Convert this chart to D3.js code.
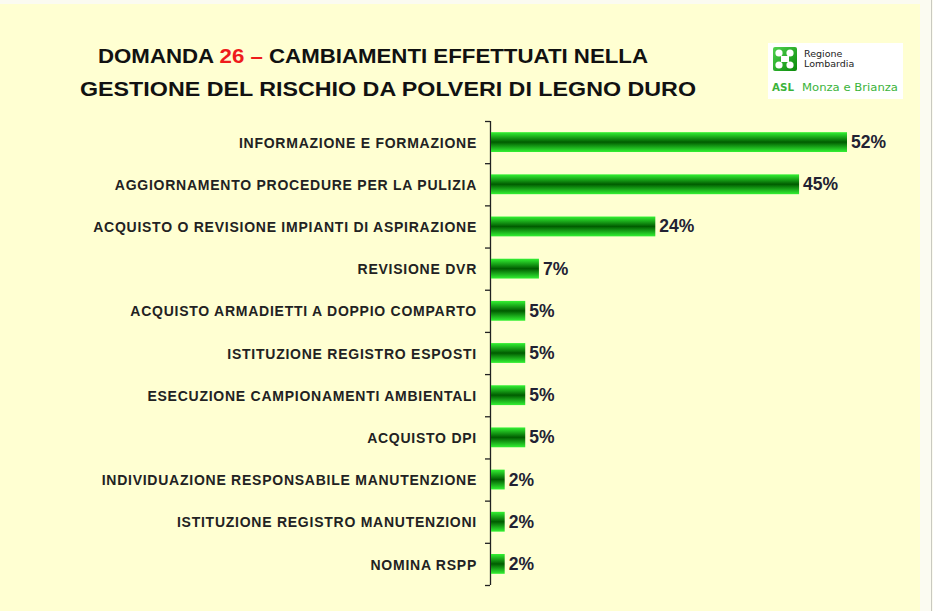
<!DOCTYPE html>
<html>
<head>
<meta charset="utf-8">
<script src="https://cdn.jsdelivr.net/npm/d3@7"></script>
<style>
  body { margin: 0; background: #f7f7ee; }
  svg { display: block; }
</style>
</head>
<body>
<script>
var svgWidth = 933;
var svgHeight = 611;

var categories = [
  "INFORMAZIONE E FORMAZIONE",
  "AGGIORNAMENTO PROCEDURE PER LA PULIZIA",
  "ACQUISTO O REVISIONE IMPIANTI DI ASPIRAZIONE",
  "REVISIONE DVR",
  "ACQUISTO ARMADIETTI A DOPPIO COMPARTO",
  "ISTITUZIONE REGISTRO ESPOSTI",
  "ESECUZIONE CAMPIONAMENTI AMBIENTALI",
  "ACQUISTO DPI",
  "INDIVIDUAZIONE RESPONSABILE MANUTENZIONE",
  "ISTITUZIONE REGISTRO MANUTENZIONI",
  "NOMINA RSPP"
];
var values = [52, 45, 24, 7, 5, 5, 5, 5, 2, 2, 2];

var titleLine1 = ["DOMANDA ", "26 \u2013", " CAMBIAMENTI EFFETTUATI NELLA"];
var titleLine2 = "GESTIONE DEL RISCHIO DA POLVERI DI LEGNO DURO";

var svg = d3.select("body").append("svg").attr("width", svgWidth).attr("height", svgHeight);

// slide background
svg.append("rect").attr("x", 0).attr("y", 0).attr("width", svgWidth).attr("height", svgHeight).attr("fill", "#fbfbf1");
svg.append("rect").attr("x", 0).attr("y", 4).attr("width", 920).attr("height", svgHeight - 4).attr("fill", "#ffffd2");
svg.append("line").attr("x1", 931.5).attr("x2", 931.5).attr("y1", 0).attr("y2", svgHeight).attr("stroke", "#c9c9c0");

var defs = svg.append("defs");
var grad = defs.append("linearGradient").attr("id", "barGrad").attr("x1", 0).attr("x2", 0).attr("y1", 0).attr("y2", 1);
grad.append("stop").attr("offset", "0%").attr("stop-color", "#33f233");
grad.append("stop").attr("offset", "50%").attr("stop-color", "#005c00");
grad.append("stop").attr("offset", "100%").attr("stop-color", "#33f233");

// title
var t1 = svg.append("text")
    .attr("x", 98).attr("y", 63)
    .attr("textLength", 550)
    .attr("lengthAdjust", "spacingAndGlyphs")
    .attr("font-family", "Liberation Sans, Arial, sans-serif")
    .attr("font-weight", "bold")
    .attr("font-size", "21px")
    .attr("fill", "#111");
t1.selectAll("tspan").data(titleLine1).enter().append("tspan")
    .attr("fill", function(d, i) { return i == 1 ? "#ee1c1c" : "#111"; })
    .text(function(d) { return d; });

svg.append("text")
    .attr("x", 80).attr("y", 96)
    .attr("textLength", 616)
    .attr("lengthAdjust", "spacingAndGlyphs")
    .attr("font-family", "Liberation Sans, Arial, sans-serif")
    .attr("font-weight", "bold")
    .attr("font-size", "21px")
    .attr("fill", "#111")
    .text(titleLine2);

// logo
var logo = svg.append("g").attr("transform", "translate(768,43)");
logo.append("rect").attr("width", 135).attr("height", 56).attr("fill", "#ffffff");
var lg = defs.append("linearGradient").attr("id", "logoGrad").attr("x1", 0).attr("x2", 1).attr("y1", 0).attr("y2", 1);
lg.append("stop").attr("offset", "0%").attr("stop-color", "#4fd24f");
lg.append("stop").attr("offset", "100%").attr("stop-color", "#0a8a0a");
logo.append("rect").attr("x", 5).attr("y", 4).attr("width", 24).attr("height", 24).attr("rx", 2).attr("fill", "url(#logoGrad)");
logo.selectAll(".leaf").data([[11, 10], [22, 10], [11, 22], [22, 22]]).enter().append("circle")
    .attr("cx", function(d) { return d[0]; }).attr("cy", function(d) { return d[1]; })
    .attr("r", 3.6).attr("fill", "#fff");
logo.append("rect").attr("x", 13).attr("y", 13).attr("width", 8).attr("height", 6).attr("fill", "#fff");
logo.append("text").attr("x", 36).attr("y", 14).attr("font-family", "DejaVu Sans, sans-serif").attr("font-size", "9.5px").attr("fill", "#222").text("Regione");
logo.append("text").attr("x", 36).attr("y", 24).attr("font-family", "DejaVu Sans, sans-serif").attr("font-size", "9.5px").attr("fill", "#222").text("Lombardia");
logo.append("text").attr("x", 4).attr("y", 48).attr("textLength", 22).attr("lengthAdjust", "spacingAndGlyphs")
    .attr("font-family", "DejaVu Sans, sans-serif").attr("font-weight", "bold").attr("font-size", "10px").attr("fill", "#3bb33b").text("ASL");
logo.append("text").attr("x", 34).attr("y", 48).attr("textLength", 96).attr("lengthAdjust", "spacingAndGlyphs")
    .attr("font-family", "DejaVu Sans, sans-serif").attr("font-size", "10px").attr("fill", "#3bb33b").text("Monza e Brianza");

// chart
var axisX = 490;
var xScale = d3.scaleLinear().domain([0, 52]).range([axisX + 1, 847]);
var yScale = d3.scaleBand().domain(categories).range([121, 585]).padding(0);
var barH = yScale.bandwidth() * 0.47;

var chartGroup = svg.append("g");

var yAxis = d3.axisLeft(yScale).tickSize(0).tickPadding(13);
var ag = chartGroup.append("g")
    .attr("transform", "translate(" + axisX + ",0)")
    .call(yAxis);
ag.select(".domain").remove();
ag.selectAll("text")
    .attr("font-family", "Liberation Sans, Arial, sans-serif")
    .attr("font-weight", "bold")
    .attr("font-size", "14px")
    .attr("letter-spacing", "0.75px")
    .attr("fill", "#222")
    .attr("dy", "0.4em");

// axis line and boundary ticks
chartGroup.append("line")
    .attr("x1", axisX + 0.5).attr("x2", axisX + 0.5)
    .attr("y1", yScale.range()[0]).attr("y2", yScale.range()[1])
    .attr("stroke", "#222").attr("stroke-width", 1.3);
var bounds = categories.map(function(c) { return yScale(c); }).concat([yScale.range()[1]]);
chartGroup.selectAll(".btick").data(bounds).enter().append("line")
    .attr("class", "btick")
    .attr("x1", axisX - 5).attr("x2", axisX)
    .attr("y1", function(d) { return d + 0.5; })
    .attr("y2", function(d) { return d + 0.5; })
    .attr("stroke", "#222").attr("stroke-width", 1.3);

chartGroup.selectAll(".bar").data(values).enter().append("rect")
    .attr("class", "bar")
    .attr("x", xScale(0))
    .attr("y", function(d, i) { return yScale(categories[i]) + (yScale.bandwidth() - barH) / 2; })
    .attr("width", function(d) { return xScale(d) - xScale(0); })
    .attr("height", barH)
    .attr("fill", "url(#barGrad)");

chartGroup.selectAll(".val").data(values).enter().append("text")
    .attr("class", "val")
    .attr("x", function(d) { return xScale(d) + 4; })
    .attr("y", function(d, i) { return yScale(categories[i]) + yScale.bandwidth() / 2 + 6; })
    .attr("font-family", "Liberation Sans, Arial, sans-serif")
    .attr("font-weight", "bold")
    .attr("font-size", "17.5px")
    .attr("fill", "#222233")
    .text(function(d) { return d + "%"; });
</script>
</body>
</html>
